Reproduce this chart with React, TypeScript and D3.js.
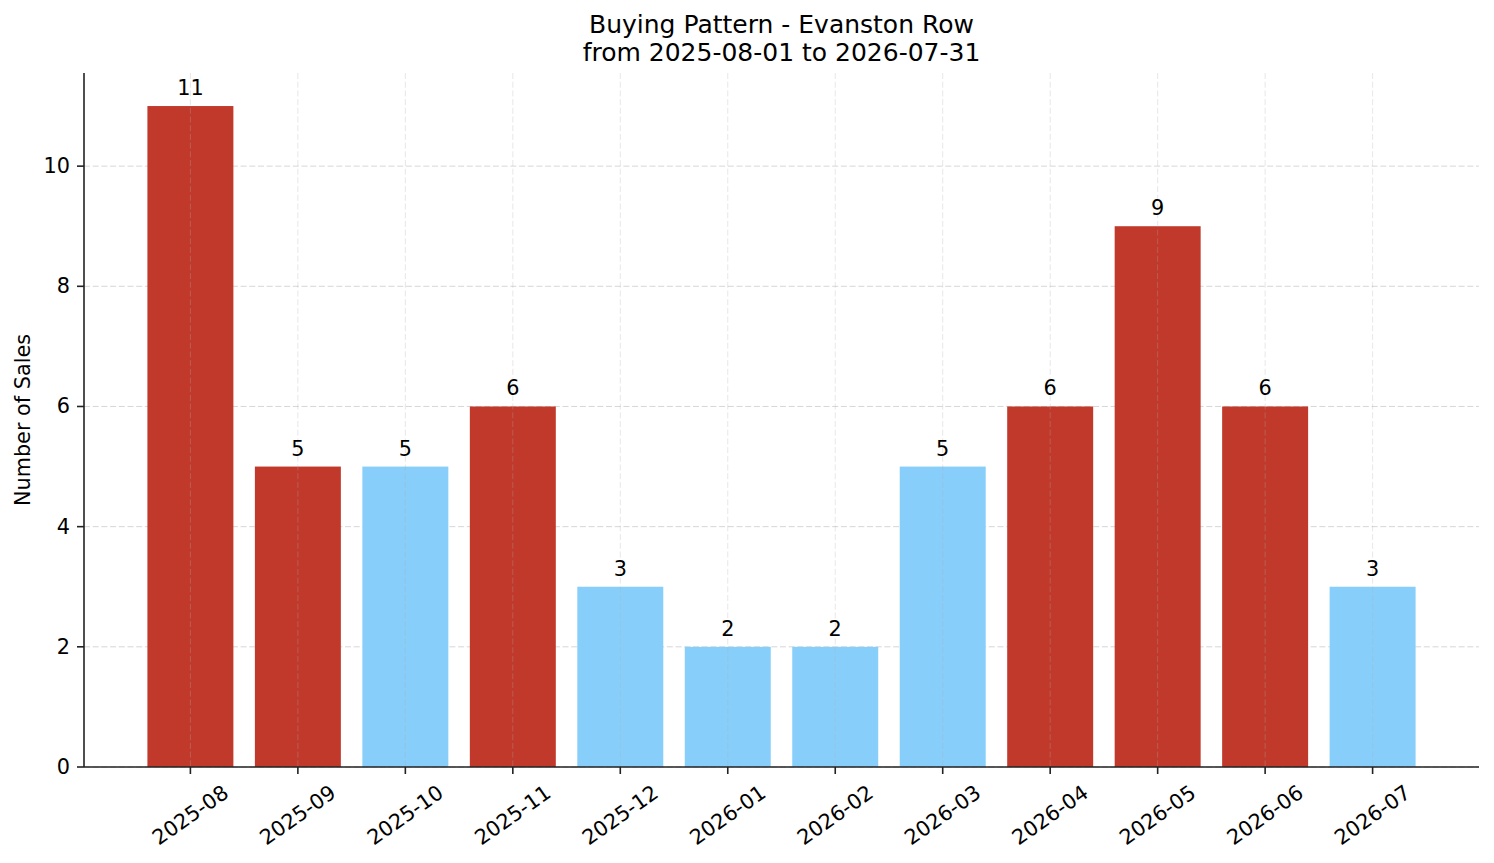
import * as d3 from 'd3';
import React from 'react';

const months = [
  '2025-08', '2025-09', '2025-10', '2025-11', '2025-12', '2026-01',
  '2026-02', '2026-03', '2026-04', '2026-05', '2026-06', '2026-07',
];
const sales = [11, 5, 5, 6, 3, 2, 2, 5, 6, 9, 6, 3];
const barColors = [
  '#c0392b', '#c0392b', '#87cefa', '#c0392b', '#87cefa', '#87cefa',
  '#87cefa', '#87cefa', '#c0392b', '#c0392b', '#c0392b', '#87cefa',
];
const yTicks = [0, 2, 4, 6, 8, 10];

const W = 1494;
const H = 863;
const left = 84;
const right = 1479;
const top = 73;
const bottom = 767;
const font = 'DejaVu Sans, sans-serif';
const fs = 20.8;

const App: React.FC = () => {
  // matplotlib-style margins around the bar positions
  const x = d3.scaleLinear().domain([-0.99, months.length - 1 + 0.99]).range([left, right]);
  const y = d3.scaleLinear().domain([0, d3.max(sales)! * 1.05]).range([bottom, top]);
  const step = x(1) - x(0);
  const bw = step * 0.8;
  const angle = 35;
  const rad = (angle * Math.PI) / 180;

  return (
    <svg width={W} height={H} style={{ position: 'absolute', left: 0, top: 0, background: '#fff' }}>
      {/* horizontal grid (behind bars) */}
      {yTicks.map((t) => (
        <line key={'hg' + t} x1={left} x2={right} y1={y(t)} y2={y(t)}
          stroke="#b0b0b0" strokeOpacity={0.5} strokeWidth={1} strokeDasharray="6,2.7" />
      ))}

      {/* bars */}
      {sales.map((v, i) => (
        <rect key={'b' + i} x={x(i) - bw / 2} y={y(v)} width={bw} height={bottom - y(v)} fill={barColors[i]} />
      ))}

      {/* vertical grid (on top, faint) */}
      {months.map((m, i) => (
        <line key={'vg' + m} x1={x(i)} x2={x(i)} y1={top} y2={bottom}
          stroke="#b0b0b0" strokeOpacity={0.3} strokeWidth={1} strokeDasharray="6,2.7" />
      ))}

      {/* value labels */}
      {sales.map((v, i) => (
        <text key={'l' + i} x={x(i)} y={y(v + 0.1) - 5} textAnchor="middle"
          fontFamily={font} fontSize={fs} fill="#000">{v}</text>
      ))}

      {/* spines */}
      <line x1={left} x2={left} y1={top} y2={bottom} stroke="#222" strokeWidth={1.6} />
      <line x1={left} x2={right} y1={bottom} y2={bottom} stroke="#222" strokeWidth={1.6} />

      {/* y ticks */}
      {yTicks.map((t) => (
        <g key={'yt' + t}>
          <line x1={left - 7} x2={left} y1={y(t)} y2={y(t)} stroke="#222" strokeWidth={1.6} />
          <text x={left - 14} y={y(t)} textAnchor="end" dominantBaseline="central"
            fontFamily={font} fontSize={fs} fill="#000">{t}</text>
        </g>
      ))}

      {/* x ticks */}
      {months.map((m, i) => {
        const tw = m.length * fs * 0.6;
        const bh = tw * Math.sin(rad) + fs * Math.cos(rad);
        const cy = bottom + 14.6 + bh / 2;
        return (
          <g key={'xt' + m}>
            <line x1={x(i)} x2={x(i)} y1={bottom} y2={bottom + 7} stroke="#222" strokeWidth={1.6} />
            <text x={x(i)} y={cy} textAnchor="middle" dominantBaseline="central"
              transform={`rotate(${-angle},${x(i)},${cy})`}
              fontFamily={font} fontSize={fs} fill="#000">{m}</text>
          </g>
        );
      })}

      {/* y label */}
      <text x={23} y={(top + bottom) / 2} textAnchor="middle" dominantBaseline="central"
        transform={`rotate(-90,23,${(top + bottom) / 2})`}
        fontFamily={font} fontSize={fs} fill="#000">Number of Sales</text>

      {/* title */}
      <text x={(left + right) / 2} y={33} textAnchor="middle" fontFamily={font} fontSize={25} fill="#000">
        Buying Pattern - Evanston Row
      </text>
      <text x={(left + right) / 2} y={61} textAnchor="middle" fontFamily={font} fontSize={25} fill="#000">
        from 2025-08-01 to 2026-07-31
      </text>
    </svg>
  );
};

export default App;
